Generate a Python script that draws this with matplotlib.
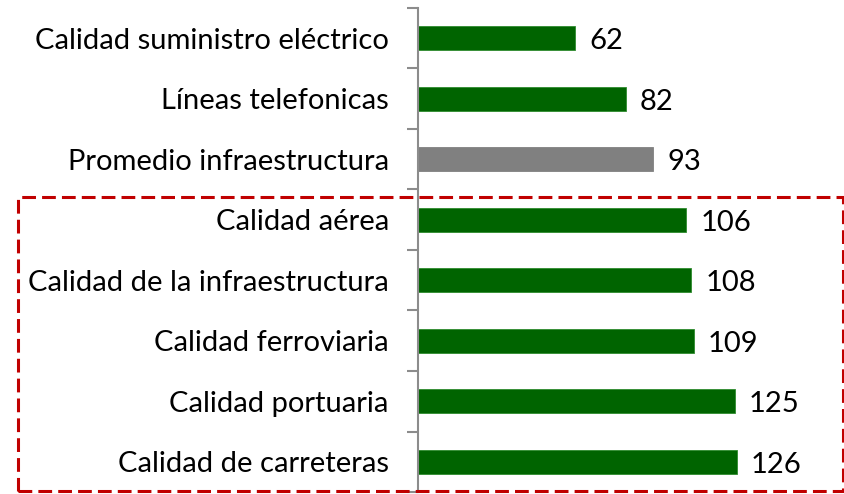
import matplotlib
matplotlib.use("Agg")
import matplotlib.pyplot as plt
from matplotlib.patches import Rectangle
import numpy as np

categories = ["Calidad suministro eléctrico", "Líneas telefonicas", "Promedio infraestructura",
              "Calidad aérea", "Calidad de la infraestructura", "Calidad ferroviaria",
              "Calidad portuaria", "Calidad de carreteras"]
values = [62, 82, 93, 106, 108, 109, 125, 126]
colors = ["#006400", "#006400", "#808080", "#006400", "#006400", "#006400", "#006400", "#006400"]

plt.rcParams['font.family'] = ['Lato', 'DejaVu Sans']

fig = plt.figure(figsize=(8.45, 4.94), dpi=100)
ax = fig.add_axes([418/845, 2/494, 1 - 418/845, 484/494])

n = len(categories)
y = np.arange(n)
ax.barh(y, values, height=0.4, color=colors, edgecolor=[c if c == "#808080" else "#2e8b2e" for c in colors], linewidth=0.6)
for yi, v in zip(y, values):
    ax.text(v + 5.5, yi + 0.05, str(v), va="center", ha="left", fontsize=21, color="black")

ax.set_ylim(n - 0.5, -0.5)
ax.set_xlim(0, 427/2.532)
ax.set_yticks(y)
ax.set_yticklabels(categories, fontsize=21)
ax.tick_params(axis="y", which="major", length=0, pad=21)
ax.set_yticks(np.arange(n + 1) - 0.5, minor=True)
ax.tick_params(axis="y", which="minor", length=8, width=1.5, color="#8c8c8c")
ax.set_xticks([])
for s in ["top", "right", "bottom"]:
    ax.spines[s].set_visible(False)
ax.spines["left"].set_color("#8c8c8c")
ax.spines["left"].set_linewidth(1.5)

rect = Rectangle((18/845, 3/494), (843-18)/845, (491-197)/494, transform=fig.transFigure,
                 fill=False, edgecolor="#C00000", linewidth=2.2, linestyle=(0, (4.5, 2)), clip_on=False)
fig.patches.append(rect)

fig.savefig("out.png", dpi=100)
